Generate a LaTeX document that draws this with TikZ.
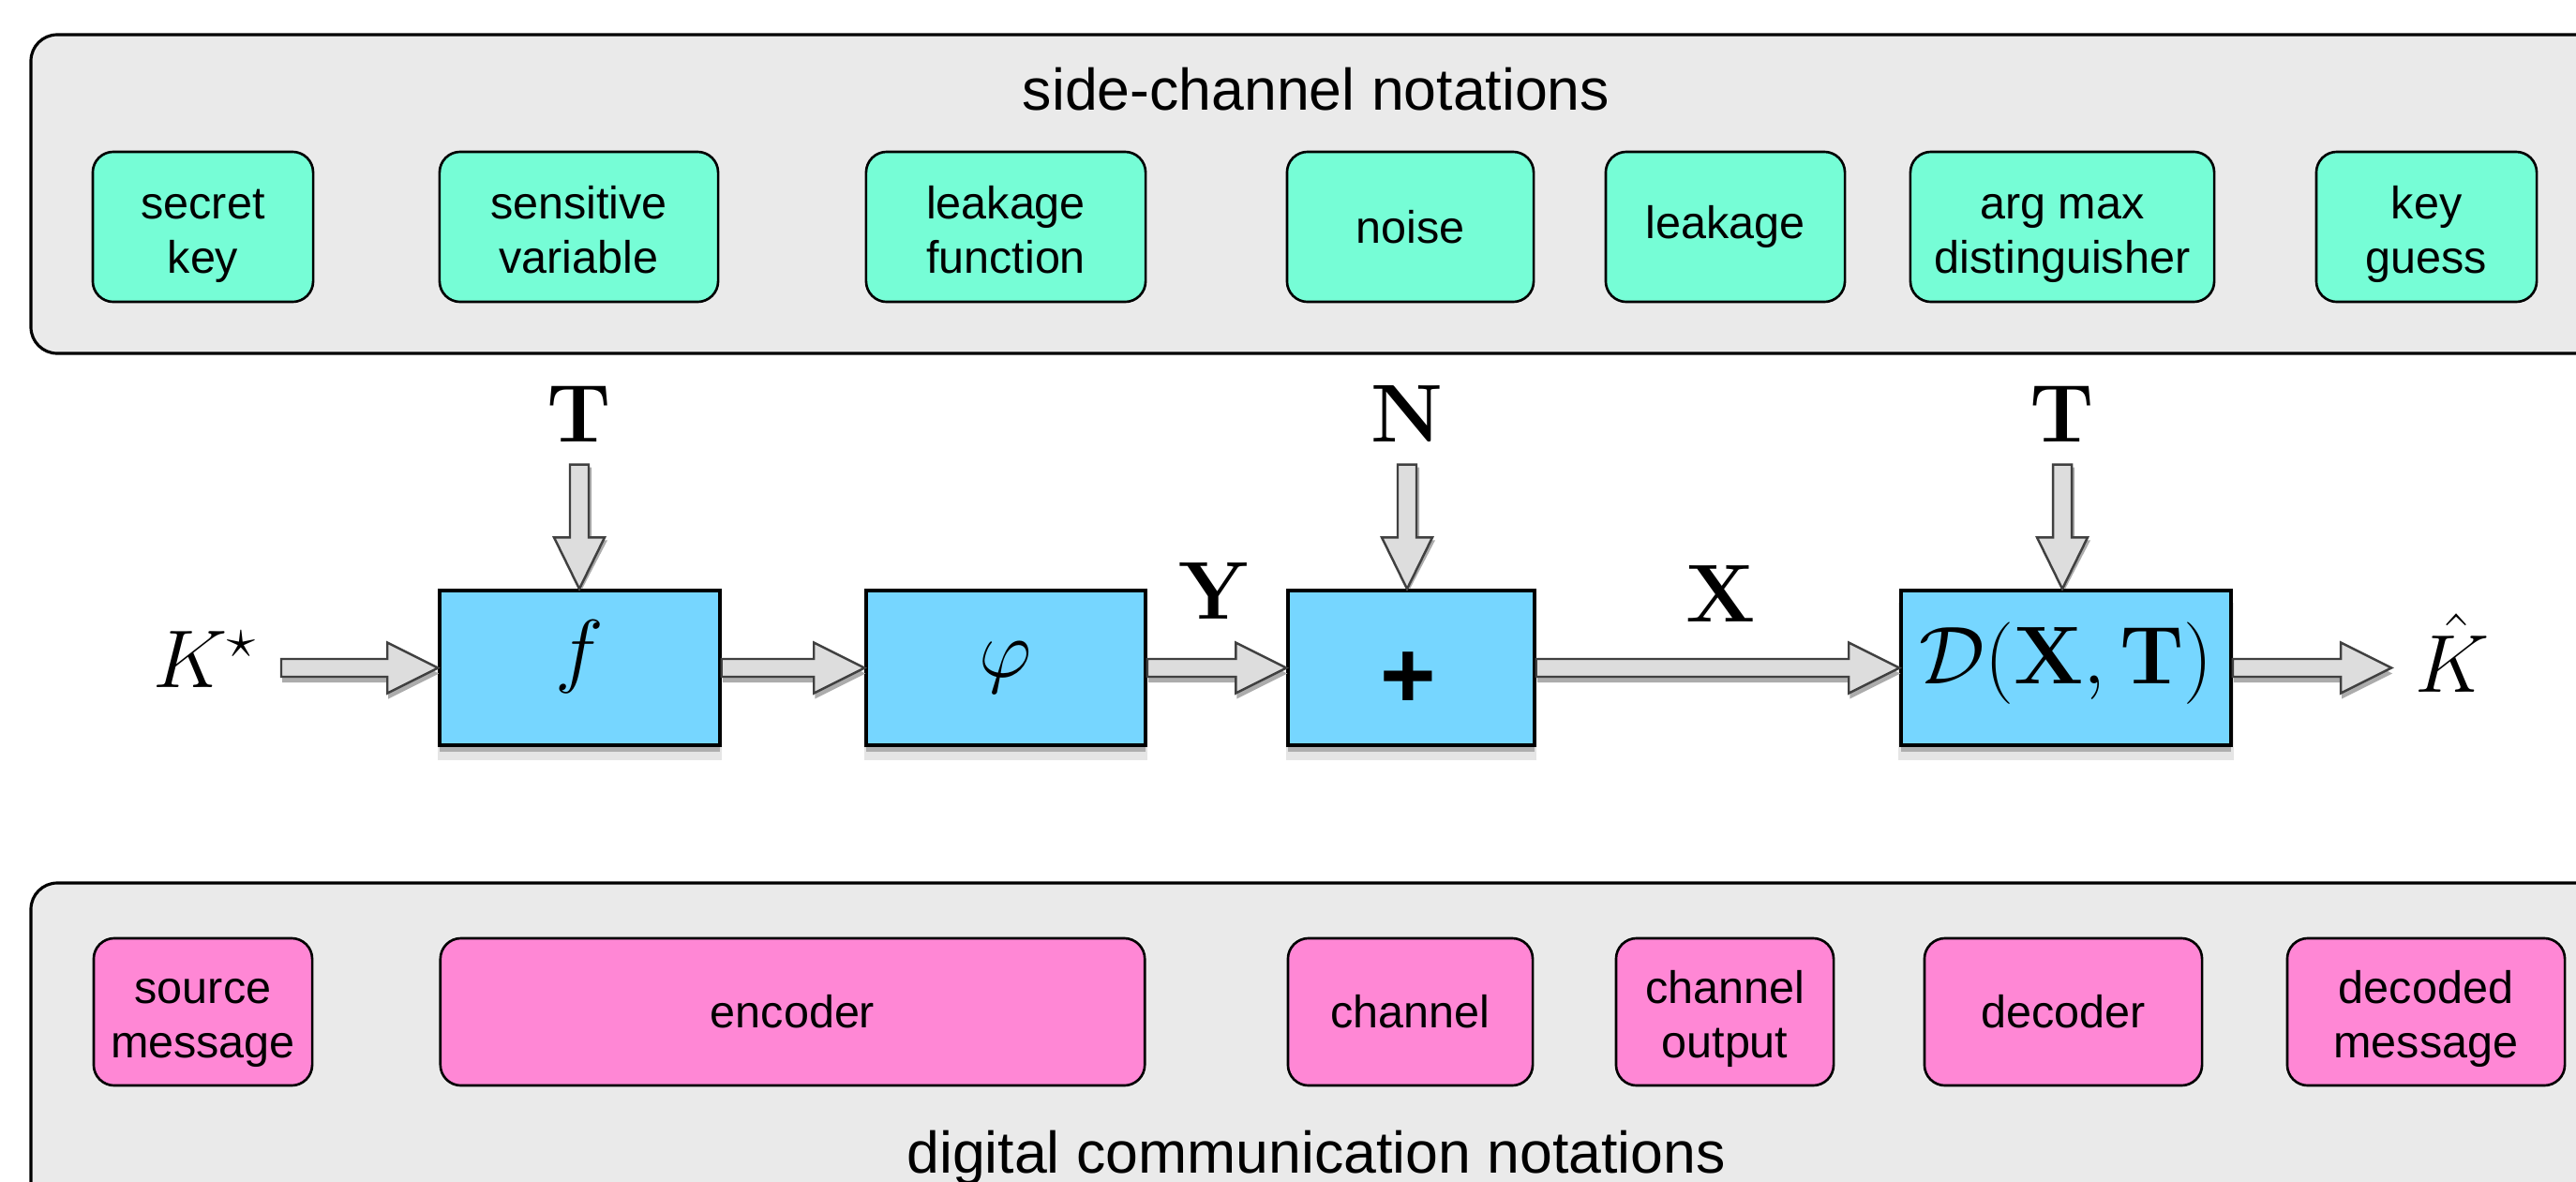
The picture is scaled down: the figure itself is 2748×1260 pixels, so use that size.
\documentclass[tikz,border=0pt]{standalone}
\usepackage[no-math]{fontspec}
\newfontfamily\helv{Liberation Sans}
\usetikzlibrary{calc,shadows}
\definecolor{panelgray}{RGB}{234,234,234}
\definecolor{sidegreen}{RGB}{118,253,214}
\definecolor{compink}{RGB}{255,135,213}
\definecolor{blockblue}{RGB}{118,214,255}
\definecolor{arrfill}{RGB}{221,221,221}
\definecolor{arrline}{RGB}{64,64,64}
\definecolor{arrshade}{RGB}{172,172,172}
\tikzset{
  panel/.style={draw=black, fill=panelgray, line width=0.9pt, rounded corners=0.28cm},
  paneltitle/.style={font=\helv\fontsize{17.8}{21}\selectfont, anchor=base, inner sep=0pt},
  notebox/.style={draw=black, line width=0.75pt, rounded corners=0.22cm, align=center,
    font=\helv\fontsize{13.8}{16.5}\selectfont, inner sep=0pt},
  gbox/.style={notebox, fill=sidegreen, minimum height=1.6cm},
  pbox/.style={notebox, fill=compink, minimum height=1.57cm},
  block/.style={draw=black, fill=blockblue, line width=0.95pt, minimum height=1.65cm, inner sep=0pt,
    general shadow={fill=black, opacity=0.10, shadow yshift=-0.14cm, shadow scale=1.015},
    general shadow={fill=black, opacity=0.24, shadow yshift=-0.07cm}},
  mlabel/.style={font=\fontsize{24}{28}\selectfont, inner sep=0pt, anchor=base},
  arrbody/.style={fill=arrfill, draw=arrline, line width=0.7pt, line join=miter},
  arrshadow/.style={fill=arrshade}
}
% two-line box text with fixed baselines
\newcommand{\twolines}[2]{\rule{0pt}{14.5pt}#1\\#2\rule[-3pt]{0pt}{3pt}}
\newcommand{\harrow}[2]{%
  \coordinate (hs) at (#1);
  \coordinate (he) at (#1 -| #2);
  \fill[arrshadow] ($(hs)+(1,-3.5)$) -- ($(he)+(-53,-3.5)$) -- ($(he)+(-53,-21)$) -- ($(he)+(1,6)$)
    -- ($(he)+(-53,33)$) -- ($(he)+(-53,15.5)$) -- ($(hs)+(1,15.5)$) -- cycle;
  \filldraw[arrbody] ($(hs)+(0,-9.5)$) -- ($(he)+(-54,-9.5)$) -- ($(he)+(-54,-27)$) -- (he)
    -- ($(he)+(-54,27)$) -- ($(he)+(-54,9.5)$) -- ($(hs)+(0,9.5)$) -- cycle;
}
\newcommand{\varrow}[2]{%
  \coordinate (vs) at (#1);
  \coordinate (ve) at (#1 |- #2);
  \fill[arrshadow] ($(vs)+(-7,3)$) -- ($(ve)+(-7,-52)$) -- ($(ve)+(-24,-52)$) -- ($(ve)+(3,0)$)
    -- ($(ve)+(30,-52)$) -- ($(ve)+(13,-52)$) -- ($(vs)+(13,3)$) -- cycle;
  \filldraw[arrbody] ($(vs)+(-10,0)$) -- ($(ve)+(-10,-55)$) -- ($(ve)+(-27,-55)$) -- (ve)
    -- ($(ve)+(27,-55)$) -- ($(ve)+(10,-55)$) -- ($(vs)+(10,0)$) -- cycle;
}
\begin{document}
\begin{tikzpicture}[x=0.01cm, y=-0.01cm]
\useasboundingbox (0,0) rectangle (2748,1260);
\fill[white] (0,0) rectangle (2748,1260);
\clip (0,0) rectangle (2748,1260);

% panels
\draw[panel] (33,37) rectangle (2820,377);
\draw[panel] (33,942) rectangle (2820,1330);
\node[paneltitle] (sctitle) at (1404,117) {side-channel notations};
\node[paneltitle] (dctitle) at (1404,1251) {digital communication notations};

% side-channel notation boxes
\node[gbox, minimum width=2.35cm] (sk) at (216.5,242) {\twolines{secret}{key}};
\node[gbox, minimum width=2.97cm] (sv) at (617.5,242) {\twolines{sensitive}{variable}};
\node[gbox, minimum width=2.98cm] (lf) at (1073,242) {\twolines{leakage}{function}};
\node[gbox, minimum width=2.63cm] (noise) at (1504.5,242) {noise};
\node[gbox, minimum width=2.55cm] (leak) at (1840.5,242) {leakage};
\node[gbox, minimum width=3.24cm] (am) at (2200,242) {\twolines{arg max}{distinguisher}};
\node[gbox, minimum width=2.35cm] (kg) at (2588.5,242) {\twolines{key}{guess}};

% digital communication notation boxes
\node[pbox, minimum width=2.33cm] (sm) at (216.5,1079.5) {\twolines{source}{message}};
\node[pbox, minimum width=7.51cm] (enc) at (845.5,1079.5) {encoder};
\node[pbox, minimum width=2.61cm] (ch) at (1504.5,1079.5) {channel};
\node[pbox, minimum width=2.32cm] (co) at (1840,1079.5) {\twolines{channel}{output}};
\node[pbox, minimum width=2.96cm] (dec) at (2201,1079.5) {decoder};
\node[pbox, minimum width=2.96cm] (dm) at (2588,1079.5) {\twolines{decoded}{message}};

% main chain blocks
\node[block, minimum width=2.99cm] (f) at (618.5,712.5) {};
\node[block, minimum width=2.98cm] (phi) at (1073,712.5) {};
\node[block, minimum width=2.63cm] (plus) at (1505.5,712.5) {};
\node[block, minimum width=3.52cm] (D) at (2204,712.5) {};
\node[mlabel] (flab) at (618.5,722) {$f$};
\node[mlabel] (philab) at (1073,722) {$\varphi$};
\node[font=\helv\bfseries\fontsize{29}{33}\selectfont, inner sep=0pt] (pluslab) at (1502,726) {+};
\node[mlabel] (Dlab) at (2204,729) {$\mathcal{D}(\mathbf{X},\mathbf{T})$};

% math labels
\node[mlabel] (kstar) at (219,733) {$K^\star$};
\node[mlabel] (khat) at (2616,738) {$\hat{K}$};
\node[mlabel] (T1) at (618,471) {$\mathbf{T}$};
\node[mlabel] (N) at (1501,471) {$\mathbf{N}$};
\node[mlabel] (T2) at (2200,471) {$\mathbf{T}$};
\node[mlabel] (Y) at (1296,660) {$\mathbf{Y}$};
\node[mlabel] (X) at (1836,663) {$\mathbf{X}$};

% connectors
\coordinate (kin) at (300,712.5);
\coordinate (kout) at (2551,712.5);
\harrow{kin}{f.west}
\harrow{f.east}{phi.west}
\harrow{phi.east}{plus.west}
\harrow{plus.east}{D.west}
\harrow{D.east}{kout}
\coordinate (t1s) at ($(T1.south)+(0,24)$);
\coordinate (ns) at ($(N.south)+(0,24)$);
\coordinate (t2s) at ($(T2.south)+(0,24)$);
\varrow{t1s}{f.north}
\varrow{ns}{plus.north}
\varrow{t2s}{D.north}
\end{tikzpicture}
\end{document}
